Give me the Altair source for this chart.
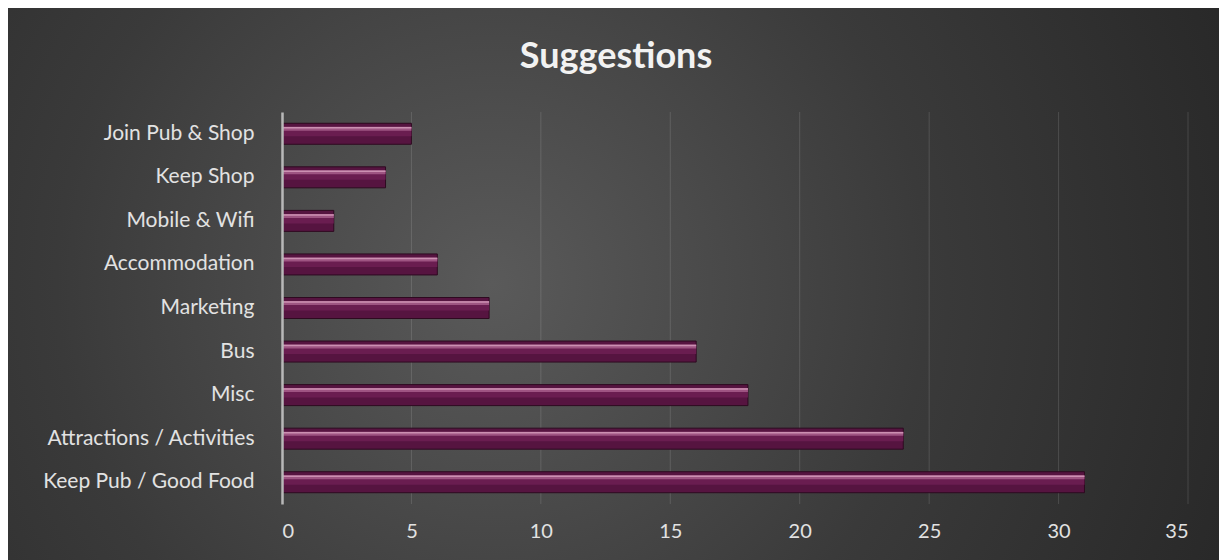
import altair as alt
import pandas as pd

title_text = "Suggestions"
categories = ["Join Pub & Shop", "Keep Shop", "Mobile & Wifi", "Accommodation",
              "Marketing", "Bus", "Misc", "Attractions / Activities", "Keep Pub / Good Food"]
values = [5, 4, 2, 6, 8, 16, 18, 24, 31]
x_ticks = [0, 5, 10, 15, 20, 25, 30, 35]
grid_ticks = [5, 10, 15, 20, 25, 30, 35]

df = pd.DataFrame({"cat": categories, "val": values})
grid_df = pd.DataFrame({"v": grid_ticks})

FONT = "Lato"

bg = alt.Chart(alt.Data(values=[{"a": 1}])).mark_rect(
    color=alt.Gradient(
        gradient="radial",
        stops=[alt.GradientStop(color="#5a5a5a", offset=0),
               alt.GradientStop(color="#3a3a3a", offset=0.5),
               alt.GradientStop(color="#242424", offset=1)],
        x1=0.4, y1=0.5, r1=0, x2=0.4, y2=0.5, r2=0.72,
    )
).encode(
    x=alt.value(-274), x2=alt.value(937), y=alt.value(-104), y2=alt.value(448)
)

title = alt.Chart(alt.Data(values=[{"t": title_text}])).mark_text(
    font=FONT, fontSize=36, fontWeight="bold", color="#f2f2f2",
    align="center", baseline="alphabetic"
).encode(text="t:N", x=alt.value(334), y=alt.value(-44))

grid = alt.Chart(grid_df).mark_rule(color="#ffffff", opacity=0.13, strokeWidth=1).encode(
    x=alt.X("v:Q")
)

yenc = alt.Y("cat:N", sort=categories, title=None,
             scale=alt.Scale(paddingInner=0.5, paddingOuter=0.25),
             axis=alt.Axis(domainColor="#b8b8b8", domainWidth=2.5, ticks=False,
                           labelPadding=28, labelFontSize=21, labelFont=FONT,
                           labelColor="#e2e2e2", labelLimit=400, zindex=1))
xenc = alt.X("val:Q", title=None,
             scale=alt.Scale(domain=[0, 35], nice=False),
             axis=alt.Axis(values=x_ticks, grid=False, domain=False, ticks=False,
                           labelFontSize=20, labelFont=FONT, labelColor="#e2e2e2",
                           labelPadding=17, zindex=1))

base = alt.Chart(df)
ycat = alt.Y("cat:N", sort=categories)
bars = base.mark_bar(size=21, color="#561440", stroke="#2e0a20", strokeWidth=1).encode(
    x=xenc, y=yenc)
band_mid = base.mark_bar(size=9, yOffset=-2, color="#6a1d50").encode(x="val:Q", y=ycat)
band_top = base.mark_bar(size=4, yOffset=-5, color="#9e5482").encode(x="val:Q", y=ycat)
stripe = base.mark_bar(size=1.5, yOffset=-6, color="#cc90b2").encode(x="val:Q", y=ycat)

chart = alt.layer(bg, grid, bars, band_mid, band_top, stripe, title).properties(
    width=906, height=392,
    background="white",
    padding={"left": 282, "top": 112, "right": 31, "bottom": 56},
    autosize=alt.AutoSizeParams(type="none"),
).configure_view(stroke=None)

chart.save("out.html", embed_options={"renderer": "svg", "actions": False})
